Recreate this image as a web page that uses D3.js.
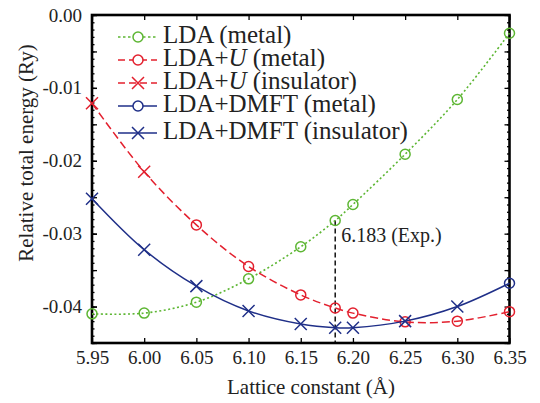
<!DOCTYPE html>
<html lang="en">
<head>
<meta charset="UTF-8">
<title>Relative total energy vs lattice constant</title>
<script src="https://d3js.org/d3.v7.min.js"></script>
<style>
html, body { margin: 0; padding: 0; background: white; }
svg text { font-family: "Liberation Serif", "Times New Roman", Times, "DejaVu Serif", serif; fill: #222; }
.tick text { font-size: 19px; }
.legend text { font-size: 25px; }
.title { font-size: 21px; }
.note { font-size: 20px; }
</style>
</head>
<body>
<div id="chart"></div>
<script>

// --------------------------------------
// Data
// --------------------------------------

const ldaX = [5.95, 6.00, 6.05, 6.10, 6.15, 6.183, 6.20, 6.25, 6.30, 6.35];
const ldaE = [-0.0410, -0.0409, -0.0394, -0.0362, -0.0318, -0.0282, -0.0260, -0.0191, -0.0116, -0.0025];

const ldaUInsX = [5.95, 6.00];
const ldaUInsE = [-0.0121, -0.0215];
const ldaUMetX = [6.05, 6.10, 6.15, 6.183, 6.20, 6.25, 6.30, 6.35];
const ldaUMetE = [-0.0288, -0.0345, -0.0384, -0.0402, -0.0409, -0.0421, -0.0420, -0.0407];

const dmftInsX = [5.95, 6.00, 6.05, 6.10, 6.15, 6.183, 6.20, 6.25, 6.30];
const dmftInsE = [-0.0252, -0.0322, -0.0372, -0.0406, -0.0424, -0.0429, -0.0429, -0.0420, -0.0400];
const dmftMetX = [6.35];
const dmftMetE = [-0.0368];

const expLattice = 6.183;

const xTicks = [5.95, 6.00, 6.05, 6.10, 6.15, 6.20, 6.25, 6.30, 6.35];
const yTicks = [0, -0.01, -0.02, -0.03, -0.04];

const green = "#5db633", red = "#e3202e", blue = "#1f2f88";

// --------------------------------------
// Size and scales
// --------------------------------------

const totalWidth = 540, totalHeight = 403;
const plotLeft = 92, plotRight = 509.5, plotTop = 15, plotBottom = 343;

const svg = d3.select("#chart").append("svg")
  .attr("width", totalWidth)
  .attr("height", totalHeight);

const x = d3.scaleLinear().domain([5.95, 6.35]).range([plotLeft, plotRight]);
const y = d3.scaleLinear().domain([-0.045, 0]).range([plotBottom, plotTop]);

// --------------------------------------
// Axes (ticks point inward)
// --------------------------------------

const fmtY = d => d3.format(".2f")(d).replace("\u2212", "-");
const minorY = d3.range(-45, 1, 1).map(d => d / 1000);
const mediumY = d3.range(-45, 1, 5).map(d => d / 1000);

svg.append("g").attr("transform", `translate(0,${plotBottom})`)
  .call(d3.axisBottom(x).tickValues(xTicks).tickFormat(d3.format(".2f")).tickSize(-5).tickPadding(8));
svg.append("g").attr("transform", `translate(0,${plotTop})`)
  .call(d3.axisTop(x).tickValues(xTicks).tickFormat("").tickSize(-5));

svg.append("g").attr("transform", `translate(${plotLeft},0)`)
  .call(d3.axisLeft(y).tickValues(yTicks).tickFormat(fmtY).tickSize(-5).tickPadding(10));
svg.append("g").attr("transform", `translate(${plotLeft},0)`)
  .call(d3.axisLeft(y).tickValues(minorY).tickFormat("").tickSize(-2.5));
svg.append("g").attr("transform", `translate(${plotLeft},0)`)
  .call(d3.axisLeft(y).tickValues(mediumY).tickFormat("").tickSize(-5));

svg.append("g").attr("transform", `translate(${plotRight},0)`)
  .call(d3.axisRight(y).tickValues(minorY).tickFormat("").tickSize(-2.5));
svg.append("g").attr("transform", `translate(${plotRight},0)`)
  .call(d3.axisRight(y).tickValues(mediumY).tickFormat("").tickSize(-5));

svg.selectAll(".domain").remove();
svg.selectAll(".tick line").attr("stroke", "#000").attr("stroke-width", 1.3);

svg.append("rect")
  .attr("x", plotLeft).attr("y", plotTop)
  .attr("width", plotRight - plotLeft).attr("height", plotBottom - plotTop)
  .attr("fill", "none").attr("stroke", "#000").attr("stroke-width", 2.6);

// --------------------------------------
// Axis titles
// --------------------------------------

svg.append("text").attr("class", "title")
  .attr("x", 311).attr("y", 394)
  .attr("text-anchor", "middle")
  .text("Lattice constant (\u00c5)");

svg.append("text").attr("class", "title")
  .attr("transform", "translate(33,153) rotate(-90)")
  .attr("text-anchor", "middle")
  .text("Relative total energy (Ry)");

// --------------------------------------
// Experimental lattice constant
// --------------------------------------

const ldaAtExp = ldaE[ldaX.indexOf(expLattice)];
svg.append("line")
  .attr("x1", x(expLattice)).attr("x2", x(expLattice))
  .attr("y1", y(ldaAtExp)).attr("y2", plotBottom)
  .attr("stroke", "#000").attr("stroke-width", 1.4)
  .attr("stroke-dasharray", "5,3");

svg.append("text").attr("class", "note")
  .attr("x", x(expLattice) + 6).attr("y", 242)
  .text("6.183 (Exp.)");

// --------------------------------------
// Curves and markers
// --------------------------------------

const line = d3.line()
  .x(d => x(d[0])).y(d => y(d[1]))
  .curve(d3.curveCatmullRom.alpha(0.5));

const zip = (xs, es) => xs.map((v, i) => [v, es[i]]);

function circles(pts, color) {
  svg.append("g").selectAll("circle").data(pts).join("circle")
    .attr("cx", d => x(d[0])).attr("cy", d => y(d[1])).attr("r", 5)
    .attr("fill", "none").attr("stroke", color).attr("stroke-width", 1.5);
}

function crosses(pts, color) {
  svg.append("g").selectAll("path").data(pts).join("path")
    .attr("d", d => {
      const cx = x(d[0]), cy = y(d[1]), s = 6;
      return `M${cx - s},${cy - s}L${cx + s},${cy + s}M${cx - s},${cy + s}L${cx + s},${cy - s}`;
    })
    .attr("fill", "none").attr("stroke", color).attr("stroke-width", 1.5);
}

const ldaPts = zip(ldaX, ldaE);
svg.append("path").datum(ldaPts).attr("d", line)
  .attr("fill", "none").attr("stroke", green).attr("stroke-width", 1.6)
  .attr("stroke-dasharray", "2,2.5");
circles(ldaPts, green);

const ldaUPts = zip(ldaUInsX, ldaUInsE).concat(zip(ldaUMetX, ldaUMetE));
svg.append("path").datum(ldaUPts).attr("d", line)
  .attr("fill", "none").attr("stroke", red).attr("stroke-width", 1.5)
  .attr("stroke-dasharray", "8,4");
circles(zip(ldaUMetX, ldaUMetE), red);
crosses(zip(ldaUInsX, ldaUInsE), red);

const dmftPts = zip(dmftInsX, dmftInsE).concat(zip(dmftMetX, dmftMetE));
svg.append("path").datum(dmftPts).attr("d", line)
  .attr("fill", "none").attr("stroke", blue).attr("stroke-width", 1.5);
crosses(zip(dmftInsX, dmftInsE), blue);
circles(zip(dmftMetX, dmftMetE), blue);

// --------------------------------------
// Legend
// --------------------------------------

const legendItems = [
  {label: "LDA (metal)", color: green, dash: "2.5,2.5", mark: "circle"},
  {label: "LDA+U (metal)", color: red, dash: "7,4", mark: "circle"},
  {label: "LDA+U (insulator)", color: red, dash: "7,4", mark: "cross"},
  {label: "LDA+DMFT (metal)", color: blue, dash: null, mark: "circle"},
  {label: "LDA+DMFT (insulator)", color: blue, dash: null, mark: "cross"}
];
const legendBase = [43, 66, 89, 112, 139];

const legend = svg.append("g").attr("class", "legend");
legendItems.forEach((item, i) => {
  const cy = legendBase[i] - 6;
  const row = legend.append("g");
  row.append("line")
    .attr("x1", 118).attr("x2", 157).attr("y1", cy).attr("y2", cy)
    .attr("stroke", item.color).attr("stroke-width", 1.5)
    .attr("stroke-dasharray", item.dash);
  if (item.mark === "circle") {
    row.append("circle").attr("cx", 138).attr("cy", cy).attr("r", 5)
      .attr("fill", "white").attr("stroke", item.color).attr("stroke-width", 1.5);
  } else {
    row.append("path")
      .attr("d", `M132,${cy - 6}L144,${cy + 6}M132,${cy + 6}L144,${cy - 6}`)
      .attr("stroke", item.color).attr("stroke-width", 1.5);
  }
  // the U is set in italics, as in the original figure
  const t = row.append("text").attr("x", 163).attr("y", legendBase[i]);
  item.label.split(/(U)/).forEach(part => {
    t.append("tspan").text(part).style("font-style", part === "U" ? "italic" : null);
  });
});

</script>
</body>
</html>
